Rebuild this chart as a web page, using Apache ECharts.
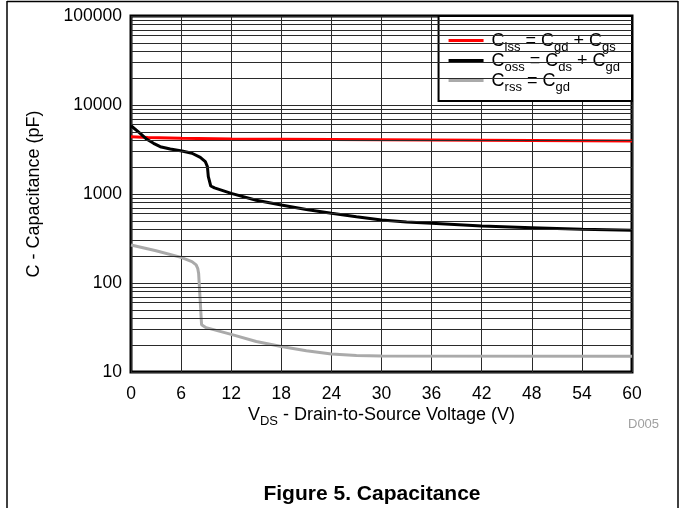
<!DOCTYPE html>
<html>
<head>
<meta charset="utf-8">
<script src="https://cdn.jsdelivr.net/npm/echarts@6/dist/echarts.min.js"></script>
<style>
html,body{margin:0;padding:0;background:#fff;}
#chart{width:681px;height:508px;}
</style>
</head>
<body>
<div id="chart"></div>
<script>
// ---- data (VDS in V, capacitance in pF) ----
var cissData = [[0,4400],[2,4300],[6,4220],[12,4150],[24,4100],[36,4040],[48,3990],[60,3940]];
var cossData = [[0,5850],[0.2,5770],[1.1,4810],[1.9,4120],[2.7,3710],[3.5,3400],[4.7,3200],[6.1,3040],[7.3,2870],[8.3,2580],[8.9,2310],[9.15,2030],[9.26,1563],[9.55,1230],[10,1170],[12,1015],[15,850],[18,752],[21,670],[24,607],[27,555],[30,511],[33,485],[36,469],[42,437],[48,418],[54,401],[60,392]];
var crssData = [[0,267],[3,230],[6,194],[7.3,174],[7.8,160],[8.0,145],[8.1,128],[8.45,34],[9,31.5],[12,26.5],[15,22],[18,19.3],[21,17.3],[24,15.9],[27,15.3],[30,15.1],[60,15]];

// ---- axes ----
var xTicks = [0,6,12,18,24,30,36,42,48,54,60];
var yTicks = [10,100,1000,10000,100000];
var yMinorGrid = [20,30,40,50,60,70,80,90,200,300,400,500,600,700,800,900,2000,3000,4000,5000,6000,7000,8000,9000,20000,30000,40000,50000,60000,70000,80000,90000];

var FONT = 'Liberation Sans, Arial, sans-serif';
var gridColor = '#2a2a2a';

var sub = {fontSize: 13, fontFamily: FONT, color: '#000', lineHeight: 6, verticalAlign: 'top', padding: [10, 0, 0, 0]};
var nrm = {fontSize: 18, fontFamily: FONT, color: '#000', lineHeight: 19, verticalAlign: 'bottom'};

var legendLabels = {
  'Ciss': '{n|C}{s|iss}{n| = C}{s|gd}{n| + C}{s|gs}',
  'Coss': '{n|C}{s|oss}{n| = C}{s|ds}{n| + C}{s|gd}',
  'Crss': '{n|C}{s|rss}{n| = C}{s|gd}'
};

var chart = echarts.init(document.getElementById('chart'), null, {renderer: 'canvas'});
var option = {
  animation: false,
  backgroundColor: '#fff',
  grid: {left: 131, right: 49, top: 16, bottom: 136, show: true, borderColor: '#000', borderWidth: 3, backgroundColor: 'transparent'},
  legend: {
    orient: 'vertical',
    right: 49, top: 16,
    backgroundColor: '#fff',
    borderColor: '#000', borderWidth: 2,
    padding: [15, 12, 7, 10],
    itemGap: -3,
    itemWidth: 35, itemHeight: 3,
    icon: 'rect',
    data: ['Ciss','Coss','Crss'],
    formatter: function (name) { return legendLabels[name]; },
    textStyle: {rich: {n: nrm, s: sub}, padding: [0,0,0,3]}
  },
  xAxis: {
    type: 'value', min: 0, max: 60, interval: 6,
    axisLine: {show: false},
    axisTick: {show: false},
    axisLabel: {fontSize: 17.5, fontFamily: FONT, color: '#000', margin: 13,
      formatter: function (v) { return xTicks.indexOf(v) >= 0 ? String(v) : ''; }},
    splitLine: {show: true, lineStyle: {color: gridColor, width: 1}},
    name: '{n|V}{s|DS}{n| - Drain-to-Source Voltage (V)}',
    nameLocation: 'middle', nameGap: 33,
    nameMoveOverlap: false,
    nameTextStyle: {rich: {n: nrm, s: sub}}
  },
  yAxis: {
    type: 'log', logBase: 10, min: 10, max: 100000,
    axisLine: {show: false},
    axisTick: {show: false},
    axisLabel: {fontSize: 17.5, fontFamily: FONT, color: '#000', margin: 9,
      formatter: function (v) { return yTicks.indexOf(v) >= 0 ? String(v) : ''; }},
    splitLine: {show: true, lineStyle: {color: gridColor, width: 1}},
    minorTick: {show: false},
    minorSplitLine: {show: false},
    name: 'C - Capacitance (pF)',
    nameLocation: 'middle', nameGap: 88,
    nameTextStyle: {fontSize: 18, fontFamily: FONT, color: '#000'}
  },
  series: [
    {
      name: 'minorGrid', type: 'line', data: [], silent: true, z: 1,
      markLine: {
        silent: true, symbol: 'none', animation: false,
        label: {show: false},
        lineStyle: {color: gridColor, width: 1, type: 'solid'},
        data: yMinorGrid.map(function (v) { return {yAxis: v}; })
      }
    },
    {name: 'Ciss', type: 'line', data: cissData, showSymbol: false, z: 3,
     lineStyle: {color: '#ff0000', width: 3}, itemStyle: {color: '#ff0000'}},
    {name: 'Coss', type: 'line', data: cossData, showSymbol: false, z: 3,
     lineStyle: {color: '#000000', width: 3}, itemStyle: {color: '#000000'}},
    {name: 'Crss', type: 'line', data: crssData, showSymbol: false, z: 3,
     lineStyle: {color: '#aaaaaa', width: 3}, itemStyle: {color: '#aaaaaa'}}
  ],
  graphic: [
    {type: 'line', shape: {x1: 7, y1: 1.5, x2: 678, y2: 1.5}, style: {stroke: '#000', lineWidth: 1.5}, silent: true},
    {type: 'line', shape: {x1: 7, y1: 1, x2: 7, y2: 508}, style: {stroke: '#000', lineWidth: 1.5}, silent: true},
    {type: 'line', shape: {x1: 678, y1: 1, x2: 678, y2: 508}, style: {stroke: '#000', lineWidth: 1.5}, silent: true},
    {type: 'text', x: 628, y: 418, style: {text: 'D005', font: '13px ' + FONT, fill: '#a0a0a0'}, silent: true},
    {type: 'text', x: 372, y: 494, style: {text: 'Figure 5. Capacitance', font: 'bold 21px ' + FONT, fill: '#000', align: 'center', verticalAlign: 'middle'}, silent: true}
  ]
};
chart.setOption(option);
</script>
</body>
</html>
